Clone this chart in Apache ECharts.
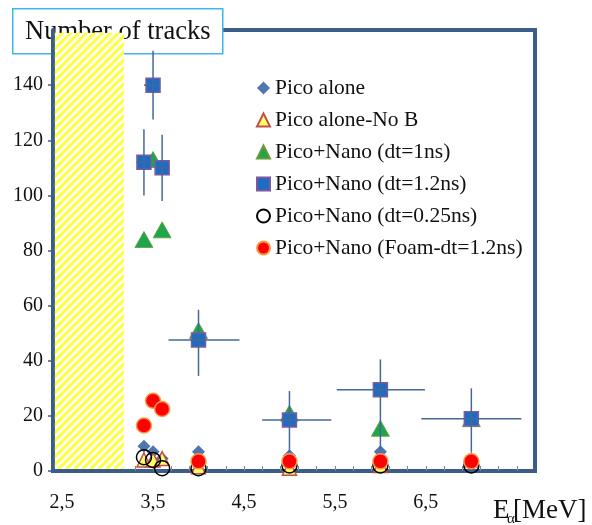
<!DOCTYPE html>
<html>
<head>
<meta charset="utf-8">
<script src="https://cdn.jsdelivr.net/npm/echarts@6/dist/echarts.min.js"></script>
<style>
html,body{margin:0;padding:0;background:#fff;}
#chart{width:592px;height:525px;}
</style>
</head>
<body>
<div id="chart"></div>
<script>
// ---- data ----
var energies   = [3.4, 3.5, 3.6, 4.0, 5.0, 6.0, 7.0];
var picoAlone  = [9, 7, 4.5, 7, 5.5, 7, 4];
var picoNoB    = [4, 4, 4.5, 1.5, 1, 2, 4];
var nano1ns    = [84, 113, 87.5, 51, 21, 15.5, 19];
var nano12ns   = [112, 140, 110, 47.5, 18.5, 29.5, 19];
var nano025ns  = [5, 4, 1, 1, 2, 2, 2];
var foam12ns   = [16.5, 25.5, 22.5, 3.5, 3.5, 3.5, 3.5];
// error bars of the dt=1.2ns series
var errYLow    = [12, 12.5, 12, 13, 11.5, 21.5, 12];
var errYHigh   = [12, 12.5, 12, 11, 10.5, 11, 11];
var errXLow    = [0.08, 0.1, 0.08, 0.33, 0.3, 0.48, 0.55];
var errXHigh   = [0.08, 0.08, 0.08, 0.45, 0.46, 0.49, 0.55];
var xTickLabels = [2.5, 3.5, 4.5, 5.5, 6.5];
var xMinorTicks = [3.3, 3.5, 3.7, 3.9, 4.1, 4.3, 4.5, 4.7, 4.9, 5.1, 5.3, 5.5, 5.7, 5.9, 6.1, 6.3, 6.5, 6.7, 6.9, 7.1, 7.3, 7.5];
var hatchRange = [2.42, 3.18, 0.8, 159];
var seriesNames = ['Pico alone', 'Pico alone-No B', 'Pico+Nano (dt=1ns)', 'Pico+Nano (dt=1.2ns)', 'Pico+Nano (dt=0.25ns)', 'Pico+Nano (Foam-dt=1.2ns)'];

function pairs(ys) { return energies.map(function (x, i) { return [x, ys[i]]; }); }

var FONT = 'Liberation Serif';
var AX = '#3b5d8a';
var chart = echarts.init(document.getElementById('chart'), null, {renderer: 'canvas'});

var errData = energies.map(function (x, i) {
  return [x, nano12ns[i], errXLow[i], errXHigh[i], errYLow[i], errYHigh[i]];
});

function hatchItem(params, api) {
  var p0 = api.coord([api.value(0), api.value(2)]);
  var p1 = api.coord([api.value(1), api.value(3)]);
  var x0 = Math.min(p0[0], p1[0]), x1 = Math.max(p0[0], p1[0]);
  var y0 = Math.min(p0[1], p1[1]), y1 = Math.max(p0[1], p1[1]);
  var kids = [{type: 'rect', shape: {x: x0, y: y0, width: x1 - x0, height: y1 - y0}, style: {fill: '#fff'}}];
  var P = 8;
  for (var c = x0 + y0 - P; c <= x1 + y1 + P; c += P) {
    // line x + y = c  ("/" direction on screen)
    kids.push({type: 'line', shape: {x1: c - y1 - 4, y1: y1 + 4, x2: c - y0 + 4, y2: y0 - 4},
      style: {stroke: '#ffff40', lineWidth: 3}});
  }
  return {type: 'group', clipPath: {type: 'rect', shape: {x: x0, y: y0, width: x1 - x0, height: y1 - y0}}, children: kids};
}

chart.setOption({
  animation: false,
  grid: {left: 53, right: 57, top: 30, bottom: 54, show: true, borderColor: AX, borderWidth: 4, outerBoundsMode: 'none'},
  legend: {
    orient: 'vertical', left: 251, top: 72, itemWidth: 13, itemHeight: 13, itemGap: 10,
    textStyle: {fontFamily: FONT, fontSize: 21.5, color: '#111'},
    data: seriesNames
  },
  xAxis: {
    type: 'value', min: 2.4, max: 7.7,
    splitLine: {show: false},
    axisLine: {lineStyle: {color: AX, width: 4}},
    axisTick: {inside: true, length: 5, customValues: xMinorTicks, lineStyle: {color: '#888', width: 1}},
    axisLabel: {customValues: xTickLabels, margin: 22, fontFamily: FONT, fontSize: 20, color: '#111',
      formatter: function (v) { return v.toFixed(1).replace('.', ','); }}
  },
  yAxis: {
    type: 'value', min: 0, max: 160, interval: 20,
    splitLine: {show: false},
    axisLine: {show: true, lineStyle: {color: AX, width: 4}},
    axisTick: {show: true, length: 5, lineStyle: {color: AX, width: 1.5}},
    axisLabel: {margin: 10, fontFamily: FONT, fontSize: 20, color: '#111', showMaxLabel: false}
  },
  series: [
    {type: 'custom', name: 'hatch', silent: true, z: 1, renderItem: hatchItem,
      encode: {x: [0, 1], y: [2, 3]}, data: [hatchRange]},
    {name: seriesNames[0], type: 'scatter', symbol: 'diamond', symbolSize: 13, clip: false,
      itemStyle: {color: '#4f74ae', opacity: 1}, data: pairs(picoAlone)},
    {name: seriesNames[1], type: 'scatter', symbol: 'triangle', symbolSize: 14, clip: false,
      itemStyle: {color: '#ffff66', borderColor: '#c0504d', borderWidth: 1.5, opacity: 1}, data: pairs(picoNoB)},
    {name: seriesNames[2], type: 'scatter', symbol: 'triangle', symbolSize: [18, 16], clip: false,
      itemStyle: {color: '#1ea64a', borderColor: '#6a9a3a', borderWidth: 0.8, opacity: 1}, data: pairs(nano1ns)},
    {name: seriesNames[3], type: 'scatter', symbol: 'rect', symbolSize: 14, clip: false,
      itemStyle: {color: '#1c6cc4', borderColor: '#7e5aa0', borderWidth: 1.5, opacity: 1}, data: pairs(nano12ns)},
    {type: 'custom', name: 'err', silent: true, clip: false, z: 3,
      renderItem: function (params, api) {
        var x = api.value(0), y = api.value(1);
        var l = api.coord([x - api.value(2), y]);
        var r = api.coord([x + api.value(3), y]);
        var b = api.coord([x, y - api.value(4)]);
        var t = api.coord([x, y + api.value(5)]);
        var st = {stroke: '#45689a', lineWidth: 1.5};
        return {type: 'group', children: [
          {type: 'line', shape: {x1: l[0], y1: l[1], x2: r[0], y2: r[1]}, style: st},
          {type: 'line', shape: {x1: b[0], y1: b[1], x2: t[0], y2: t[1]}, style: st}
        ]};
      },
      encode: {x: 0, y: 1}, data: errData},
    {name: seriesNames[4], type: 'scatter', symbol: 'circle', symbolSize: 15, clip: false, z: 4,
      itemStyle: {color: 'rgba(255,255,255,0)', borderColor: '#000', borderWidth: 1.5, opacity: 1}, data: pairs(nano025ns)},
    {name: seriesNames[5], type: 'scatter', symbol: 'circle', symbolSize: 15, clip: false, z: 4,
      itemStyle: {color: '#ff0000', borderColor: '#f29a4a', borderWidth: 1.5, opacity: 1}, data: pairs(foam12ns)}
  ],
  graphic: [
    {type: 'group', left: 12, top: 8, z: 100, children: [
      {type: 'rect', shape: {x: 0, y: 0, width: 210, height: 45},
        style: {fill: '#fff', stroke: '#3db6e8', lineWidth: 1.5}},
      {type: 'text', x: 105, y: 23, style: {text: 'Number of tracks', fontFamily: FONT, fontSize: 26.5,
        fill: '#111', align: 'center', verticalAlign: 'middle'}}
    ]},
    {type: 'text', left: 493, top: 497, z: 100, style: {text: 'E', fontFamily: FONT, fontSize: 27, fill: '#111'}},
    {type: 'text', left: 507, top: 512, z: 100, style: {text: 'α', fontFamily: FONT, fontSize: 15, fill: '#111'}},
    {type: 'text', left: 513, top: 497, z: 100, style: {text: '[MeV]', fontFamily: FONT, fontSize: 27, fill: '#111'}}
  ]
});
</script>
</body>
</html>
